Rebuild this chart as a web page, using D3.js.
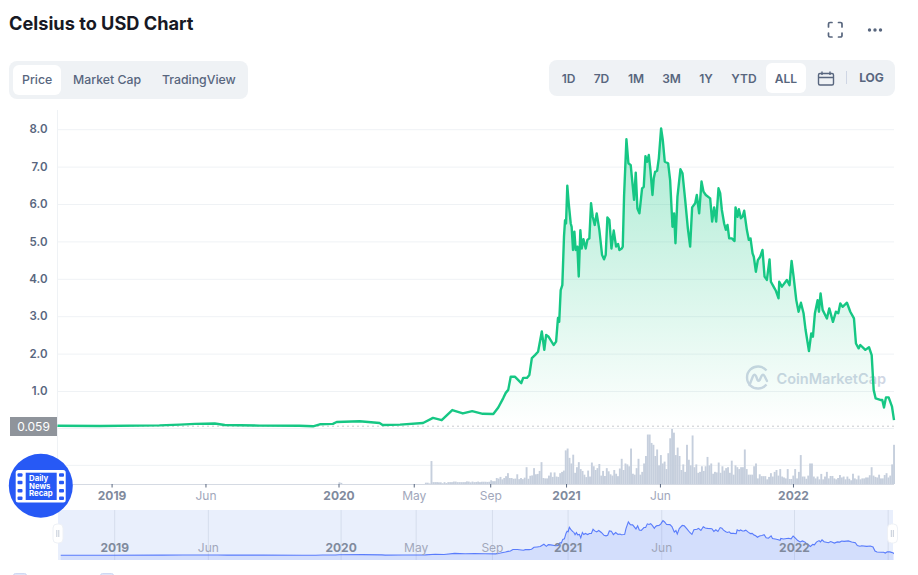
<!DOCTYPE html>
<html>
<head>
<meta charset="utf-8">
<script src="https://cdn.jsdelivr.net/npm/d3@7"></script>
<style>
  html, body { margin: 0; padding: 0; background: #fff; }
  svg { display: block; font-family: Inter, "Noto Sans", sans-serif; }
</style>
</head>
<body>
<div id="chart"></div>
<script>
// days are counted from 2021-01-01
const priceDays = [-818,-750,-654,-621,-597,-565,-549,-493,-429,-407,-396,-375,-369,-332,-300,-295,-267,-230,-214,-200,-183,-166,-151,-134,-117,-109,-101,-97,-93,-89,-82,-72,-69,-63,-59,-55,-50,-45,-39,-35,-32,-28,-20,-16,-13,-11,
  -8.6,-6,-3.3,-1.6,0,2,4.3,7.5,9,11.2,13.4,15.5,18.2,20.4,23,25.2,27.9,31.6,34.3,37.5,40.2,42.9,46.1,49.3,53.6,57.9,61.1,63.8,66.5,69.7,73,76.7,80.5,83.7,85.8,89.6,91.2,93.3,97.1,100.3,104,109.4,112.1,114.8,118,122.3,125,127.7,130.4,133.1,135.7,139,141.1,143.3,146.5,149.2,152.9,155.6,158.8,164.2,167.4,171.2,173.8,176,179.2,184,187.3,191.6,195.9,199.6,202.8,207.7,210.3,214.1,217.9,221.1,224.8,231.8,235,238.2,241.5,245.2,247.9,
  250.6,254.3,257,259.7,262.4,266.7,271,272.6,275.8,278,281.2,283.9,286.5,290.8,294,296.7,300,302,305.3,308.5,312.3,316,319.3,323,327.3,329.5,333.8,337.5,341.8,342.9,347.2,355.2,359.5,362.8,366,370.3,374,377.8,382,385.3,390.7,394.4,397.1,400.3,404.6,406.8,409.4,412.7,419.6,423.4,429.3,434.1,437.9,441.1,444.9,451.8,457.2,463.1,466.3,470.6,473.3,481.4,487.3,491.6,494.8,498,505.5,508.7,511.4,514.6,518.9,524.3,527.5];
const priceValues = [.07,.065,.08,.10,.12,.13,.09,.075,.072,.056,.11,.12,.17,.19,.145,.09,.10,.145,.28,.22,.49,.40,.46,.39,.385,.56,.81,.95,1.03,1.38,1.38,1.21,1.35,1.35,1.43,1.88,1.96,2.05,2.59,2.10,2.50,2.45,2.23,2.32,2.95,2.85,
  3.70,3.83,5.13,5.57,5.48,6.49,6.02,5.48,5.39,4.77,5.26,4.77,4.86,4.06,5.30,4.81,5.06,4.81,5.04,5.08,6.02,5.66,5.44,5.75,5.30,4.64,4.52,4.64,5.64,5.57,4.81,5.29,4.86,4.93,4.77,4.81,4.86,6.20,7.73,7.09,7.04,6.11,6.84,5.88,5.75,6.42,6.46,7.28,7.13,7.31,6.91,6.24,6.69,6.86,6.89,7.22,8.02,7.71,7.13,7.09,6.64,5.39,5.75,4.95,6.20,6.93,6.82,6.11,5.35,4.86,5.91,6.02,6.24,5.75,6.60,6.33,6.24,6.15,5.53,5.91,5.53,6.42,6.29,
  5.84,5.48,5.31,5.44,5.08,5.08,5.01,5.91,5.66,5.86,5.62,5.66,5.82,5.31,5.04,5.08,4.68,4.59,4.19,4.50,4.59,4.77,4.06,3.97,4.52,3.92,3.79,3.68,3.48,3.92,3.79,3.97,3.83,4.48,4.06,3.43,3.12,3.36,3.08,2.63,2.07,2.54,2.45,3.08,3.43,3.12,3.61,3.17,2.94,3.21,2.85,3.12,3.08,3.34,3.25,3.36,3.12,2.94,2.27,2.14,2.23,2.10,2.17,1.96,1.03,.80,.76,.76,.56,.83,.83,.58,.22];

const firstPrice = 0.059;
const yTicks = [1, 2, 3, 4, 5, 6, 7, 8];

// volume, one bar every three days from volumeStart, the grid line sits at 10
const volumeStart = -227;
const volumeStep = 3;
const volumeValues = [.7,.7,.3,12.3,
  1,1,1,.9,.9,.4,1,.5,1,1,1,1.3,1.3,1,1,1,1,
  1,1.4,1.3,.9,1.3,1,1.1,1.3,1,1.2,1.2,1.2,1.1,1.2,2,1.5,1.5,3.2,2.9,3.8,2.5,3.2,4.2,5.8,3.2,3.2,2.8,2.9,5.2,2.6,3.2,2.6,3.4,9,2.8,4.4,4.6,8.5,5.2,5.4,7,11.7,3.2,3,3,4.5,6.2,3.8,6.2,4,3.8,5.8,6.5,7.2,18,19,14,11,15.7,6,9,11.7,
  8,7,5,3.7,7.2,4,11.5,9.5,7.5,8.5,10.7,4.5,7,4.3,8.5,6.8,5.2,4.5,7.5,5.5,4.2,8.3,13.5,7.5,11,10.5,9.5,19,5.5,5,8.5,13.5,5,6.5,11,15,26.5,26.5,22,21,15,18.5,10,15.5,11,12,8,16.5,24.5,29.5,27.5,15.5,19.5,15,7.5,10.5,6.5,21,13,10,26,9,10.5,6,6.5,9.5,7,9.5,14.5,10,11,5.5,6.5,6.2,11.5,6,9.5,7.2,8.5,9,6,12.5,5,10,
  9,8,9,9,18.5,8,5,5,5,9.5,11,3,5.2,4.2,4.2,4.2,2.5,3.8,5.8,4,6.5,7.5,4.5,8,4,3.5,3,8,2.7,2.7,4.5,8,3,6.5,15.5,4,4,2.8,4.5,11,11,4,3,4,2.5,5.4,2.5,4,6.5,3,4.3,4.3,3,2.5,3.2,4.8,3.5,4,2.5,4,2.8,2,5.5,3,2.5,4.5,2.5,3,3,3.5,3.5,4.7,9,4.5,3.8,3.5,5,3,3,4.8,5.8,3.5,4.5,10.5,21];
const earlyVolumeDays = [-366, -363];
const earlyVolumeValues = [.9, .6];

const tickDates = ['2019-01-01', '2019-06-01', '2020-01-01', '2020-05-01', '2020-09-01', '2021-01-01', '2021-06-01', '2022-01-01'];
const tickLabels = ['2019', 'Jun', '2020', 'May', 'Sep', '2021', 'Jun', '2022'];
const yearLabels = ['2019', '2020', '2021', '2022'];
const navExtraTick = '2022-06-01';

const chartTabs = ['Price', 'Market Cap', 'TradingView'];
const rangeTabs = ['1D', '7D', '1M', '3M', '1Y', 'YTD', 'ALL'];

const width = 918, height = 575;
const left = 57.5, right = 894;
const baseDate = Date.UTC(2021, 0, 1);
const toDate = d => new Date(baseDate + d * 864e5);
const parseDate = d3.utcParse('%Y-%m-%d');

const svg = d3.select('#chart').append('svg')
  .attr('width', width)
  .attr('height', height)
  .attr('viewBox', `0 0 ${width} ${height}`);

const x = d3.scaleUtc().domain([toDate(-818), toDate(527.5)]).range([left, right]);
const y = d3.scaleLinear().domain([0, 8]).range([428.4, 129.2]);
const yVol = d3.scaleLinear().domain([0, 30]).range([484, 428]);
const xNav = d3.scaleUtc().domain([toDate(-731), toDate(365)]).range([114.7, 794.5]);
const yNav = d3.scaleLinear().domain([0, 8]).range([555.5, 520.7]);

const priceData = priceDays.map((d, i) => ({date: toDate(d), value: priceValues[i]}));

const defs = svg.append('defs');
const grad = defs.append('linearGradient')
  .attr('id', 'priceFill')
  .attr('gradientUnits', 'userSpaceOnUse')
  .attr('x1', 0).attr('x2', 0)
  .attr('y1', y(8)).attr('y2', y(firstPrice));
grad.append('stop').attr('offset', 0).attr('stop-color', '#16c784').attr('stop-opacity', 0.36);
grad.append('stop').attr('offset', 1).attr('stop-color', '#16c784').attr('stop-opacity', 0);
defs.append('clipPath').attr('id', 'navClip')
  .append('rect').attr('x', 58).attr('y', 510).attr('width', 836).attr('height', 50);

// title
svg.append('text').attr('x', 9).attr('y', 30)
  .attr('font-size', 18.2).attr('font-weight', 700).attr('fill', '#171924')
  .text('Celsius to USD Chart');

// fullscreen + more icons
svg.append('path')
  .attr('d', 'M828.5 27v-3a1.5 1.5 0 0 1 1.5-1.5h2 M838.5 22.5h2a1.5 1.5 0 0 1 1.5 1.5v3 M842 33v2.500a1.5 1.5 0 0 1 -1.500 1.500h-2 M832 37h-2a1.500 1.500 0 0 1 -1.500 -1.500v-2.500')
  .attr('fill', 'none').attr('stroke', '#58667e').attr('stroke-width', 1.7).attr('stroke-linecap', 'round');
svg.selectAll('.dot').data([869.5, 875, 880.5]).enter().append('circle')
  .attr('class', 'dot').attr('cx', d => d).attr('cy', 30).attr('r', 1.7).attr('fill', '#58667e');

// tab groups
svg.append('rect').attr('x', 9).attr('y', 61).attr('width', 239).attr('height', 38).attr('rx', 8).attr('fill', '#eff2f5');
svg.append('rect').attr('x', 13).attr('y', 65).attr('width', 48).attr('height', 30).attr('rx', 6).attr('fill', '#fff');
const tabX = [22, 73, 162];
svg.selectAll('.tab').data(chartTabs).enter().append('text')
  .attr('class', 'tab')
  .attr('x', (d, i) => tabX[i]).attr('y', 84)
  .attr('font-size', 12.3).attr('font-weight', 500).attr('fill', '#58667e')
  .text(d => d);

svg.append('rect').attr('x', 549).attr('y', 60).attr('width', 346).attr('height', 36).attr('rx', 8).attr('fill', '#eff2f5');
svg.append('rect').attr('x', 766).attr('y', 63).attr('width', 40).attr('height', 30).attr('rx', 6).attr('fill', '#fff');
const rangeX = [568.500, 601.500, 636, 671.500, 706, 744, 786];
svg.selectAll('.range').data(rangeTabs).enter().append('text')
  .attr('class', 'range')
  .attr('x', (d, i) => rangeX[i]).attr('y', 83)
  .attr('text-anchor', 'middle')
  .attr('font-size', 12).attr('font-weight', 600).attr('fill', '#58667e')
  .text(d => d);
svg.append('text').attr('x', 871.500).attr('y', 82)
  .attr('text-anchor', 'middle').attr('font-size', 12).attr('font-weight', 700).attr('fill', '#58667e')
  .text('LOG');
svg.append('line').attr('x1', 846.500).attr('x2', 846.500).attr('y1', 71).attr('y2', 84).attr('stroke', '#cfd6e4');
svg.append('path')
  .attr('d', 'M820 73.500h12a1.500 1.500 0 0 1 1.500 1.500v8.500a1.500 1.500 0 0 1 -1.500 1.500h-12a1.500 1.500 0 0 1 -1.500 -1.500v-8.500a1.500 1.500 0 0 1 1.500 -1.500z M818.500 77.500h15 M822 71.500v3.500 M830 71.500v3.500')
  .attr('fill', 'none').attr('stroke', '#58667e').attr('stroke-width', 1.4);

// y axis with grid lines
const yAxis = svg.append('g')
  .attr('transform', `translate(${left},0)`)
  .call(d3.axisLeft(y).tickValues(yTicks).tickSize(-(right - left)).tickPadding(10).tickFormat(d3.format('.1f')));
yAxis.select('.domain').remove();
yAxis.selectAll('line').attr('stroke', '#eff2f5');
yAxis.selectAll('text')
  .attr('font-family', 'Inter, sans-serif').attr('font-size', 11.5).attr('font-weight', 600).attr('fill', '#58667e');

svg.append('line').attr('x1', left).attr('x2', left).attr('y1', 110).attr('y2', 484).attr('stroke', '#eff2f5');
svg.append('line').attr('x1', left).attr('x2', right).attr('y1', 428.500).attr('y2', 428.500).attr('stroke', '#eff2f5');
svg.append('line').attr('x1', left).attr('x2', right).attr('y1', yVol(10)).attr('y2', yVol(10)).attr('stroke', '#eff2f5');

// watermark
const mark = svg.append('g').attr('fill', 'none').attr('stroke', '#cfd6e4').attr('stroke-width', 2.4);
mark.append('path')
  .attr('d', 'M766.500 384.500a11 11 0 1 1 0 -14');
mark.append('path')
  .attr('d', 'M749.500 385l3.500 -9q1.500 -2.500 3 0l1.500 4q1 1.500 2.200 0l1.800 -4q1.500 -2.500 3 0l2.500 5')
  .attr('stroke-linecap', 'round');
svg.append('text').attr('x', 776.500).attr('y', 384)
  .attr('font-size', 14.5).attr('font-weight', 600).attr('fill', '#cfd6e4')
  .text('CoinMarketCap');

// price area and line
const area = d3.area().x(d => x(d.date)).y0(y(firstPrice)).y1(d => y(d.value));
const line = d3.line().x(d => x(d.date)).y(d => y(d.value));
svg.append('path').datum(priceData).attr('d', area).attr('fill', 'url(#priceFill)');
svg.append('line')
  .attr('x1', left).attr('x2', right).attr('y1', y(firstPrice)).attr('y2', y(firstPrice))
  .attr('stroke', '#8f949b').attr('stroke-width', 1).attr('stroke-dasharray', '1 4');
svg.append('path').datum(priceData).attr('d', line)
  .attr('fill', 'none').attr('stroke', '#16c784').attr('stroke-width', 2.4).attr('stroke-linejoin', 'round');

// first price label
svg.append('rect').attr('x', 10).attr('y', 417).attr('width', 47).attr('height', 19).attr('fill', '#8f949b');
svg.append('text').attr('x', 33.500).attr('y', 430.500)
  .attr('text-anchor', 'middle').attr('font-size', 12).attr('fill', '#fff')
  .text(d3.format('.3f')(firstPrice));

// volume bars
const volumeData = earlyVolumeDays.map((d, i) => ({day: d, value: earlyVolumeValues[i]}))
  .concat(volumeValues.map((v, i) => ({day: volumeStart + i * volumeStep, value: v})));
svg.selectAll('.vol').data(volumeData).enter().append('rect')
  .attr('class', 'vol')
  .attr('x', d => x(toDate(d.day)))
  .attr('y', d => yVol(d.value))
  .attr('width', 1.900)
  .attr('height', d => yVol(0) - yVol(d.value))
  .attr('fill', '#c6cfdd');

// x axis
const labelOf = d => tickLabels[tickDates.findIndex(t => +parseDate(t) === +d)] || '';
const xAxis = svg.append('g')
  .attr('transform', 'translate(0,484)')
  .call(d3.axisBottom(x).tickValues(tickDates.map(parseDate)).tickSize(3.500).tickPadding(4).tickFormat(labelOf));
xAxis.select('.domain').attr('stroke', '#d5dae3').attr('d', `M${left},0.5H${right}`);
xAxis.selectAll('line').attr('stroke', '#58667e');
xAxis.selectAll('text')
  .attr('font-family', 'Inter, sans-serif').attr('font-size', 12)
  .attr('font-weight', d => yearLabels.includes(labelOf(d)) ? 700 : 400)
  .attr('fill', d => yearLabels.includes(labelOf(d)) ? '#808a9d' : '#a1a7bb');

// navigator
svg.append('rect').attr('x', 58).attr('y', 510).attr('width', 835).attr('height', 50).attr('fill', '#e9effc');
const navDates = tickDates.concat([navExtraTick]).map(parseDate);
svg.selectAll('.navgrid').data(navDates).enter().append('line')
  .attr('class', 'navgrid')
  .attr('x1', d => xNav(d)).attr('x2', d => xNav(d))
  .attr('y1', 510).attr('y2', 560)
  .attr('stroke', '#d5ddec');
const navArea = d3.area().x(d => xNav(d.date)).y0(560).y1(d => yNav(d.value));
const navLine = d3.line().x(d => xNav(d.date)).y(d => yNav(d.value));
const nav = svg.append('g').attr('clip-path', 'url(#navClip)');
nav.append('path').datum(priceData).attr('d', navArea).attr('fill', '#3861fb').attr('fill-opacity', 0.12);
nav.append('path').datum(priceData).attr('d', navLine)
  .attr('fill', 'none').attr('stroke', '#3861fb').attr('stroke-opacity', 0.8).attr('stroke-width', 1.1);
svg.selectAll('.navlabel').data(tickDates.map(parseDate)).enter().append('text')
  .attr('class', 'navlabel')
  .attr('x', d => xNav(d)).attr('y', 552)
  .attr('text-anchor', 'middle')
  .attr('font-size', 12)
  .attr('font-weight', d => yearLabels.includes(labelOf(d)) ? 700 : 400)
  .attr('fill', d => yearLabels.includes(labelOf(d)) ? '#808a9d' : '#a1a7bb')
  .text(labelOf);

// navigator handles
[53, 887.500].forEach(hx => {
  svg.append('rect').attr('x', hx).attr('y', 524).attr('width', 10).attr('height', 19).attr('rx', 4)
    .attr('fill', '#fff').attr('stroke', '#eef1f6');
  [hx + 3.800, hx + 5.800].forEach(bx => {
    svg.append('line').attr('x1', bx).attr('x2', bx).attr('y1', 530).attr('y2', 537).attr('stroke', '#c4cbd8');
  });
});

// bottom legend boxes, cut off by the window
[13.500, 100.500].forEach(bx => {
  svg.append('rect').attr('x', bx).attr('y', 573.500).attr('width', 13).attr('height', 13).attr('rx', 2)
    .attr('fill', '#dfe6f8').attr('stroke', '#cfd9f3');
});

// news badge
const badge = svg.append('g');
badge.append('circle').attr('cx', 40.800).attr('cy', 485.700).attr('r', 32).attr('fill', '#2759f5');
badge.append('rect').attr('x', 15.700).attr('y', 470).attr('width', 50).attr('height', 32.500).attr('rx', 2.500).attr('fill', '#fff');
badge.append('rect').attr('x', 25.700).attr('y', 472.700).attr('width', 31).attr('height', 27.300).attr('fill', '#2759f5');
[17.500, 59].forEach(hx => {
  [473.300, 480.700, 489, 496.500].forEach(hy => {
    badge.append('rect').attr('x', hx).attr('y', hy).attr('width', 5).attr('height', 3.500).attr('rx', 1).attr('fill', '#2759f5');
  });
});
[['Daily', 481.300], ['News', 488.800], ['Recap', 496.400]].forEach(t => {
  badge.append('text').attr('x', 29).attr('y', t[1])
    .attr('font-size', 7.8).attr('font-weight', 700).attr('fill', '#fff').text(t[0]);
});
</script>
</body>
</html>
